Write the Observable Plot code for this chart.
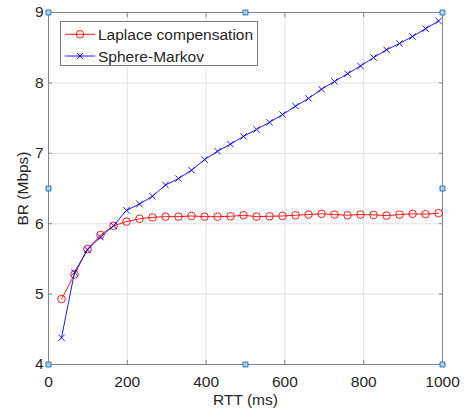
<!DOCTYPE html>
<html><head><meta charset="utf-8">
<script src="https://cdn.jsdelivr.net/npm/d3@7"></script>
<script src="https://cdn.jsdelivr.net/npm/@observablehq/plot@0.6"></script>
<style>
body{margin:0;background:#fff;}
#chart{position:relative;width:466px;height:415px;}
</style></head><body><div id="chart"></div>
<script>
const rtt = [33,66,99,132,165,198,231,264,297,330,363,396,429,462,495,528,561,594,627,660,693,726,759,792,825,858,891,924,957,990];
const laplace = [4.93,5.28,5.64,5.84,5.97,6.03,6.07,6.09,6.10,6.10,6.11,6.10,6.10,6.105,6.12,6.10,6.105,6.11,6.12,6.13,6.14,6.13,6.12,6.13,6.125,6.115,6.13,6.14,6.135,6.15];
const sphere = [4.38,5.31,5.63,5.81,5.97,6.19,6.28,6.39,6.55,6.64,6.76,6.91,7.03,7.13,7.24,7.34,7.44,7.55,7.67,7.78,7.91,8.02,8.13,8.24,8.36,8.47,8.56,8.66,8.77,8.88];
const seriesNames = ["Laplace compensation","Sphere-Markov"];
const seriesColors = ["#ff0000","#0000ff"];
const xTicks = [0,200,400,600,800,1000];
const yTicks = [4,5,6,7,8,9];
const handleX = [0,500,1000];
const handleY = [4,6.5,9];

const lap = rtt.map((x,i)=>({x, y: laplace[i]}));
const sph = rtt.map((x,i)=>({x, y: sphere[i]}));
const handles = [];
handleY.forEach((y,j)=>handleX.forEach((x,i)=>{ if(!(i===1&&j===1)) handles.push({x,y}); }));

const axisGray = "#858585";
const plot = Plot.plot({
  width: 466, height: 415,
  marginLeft: 48, marginRight: 24, marginTop: 12, marginBottom: 51,
  style: {fontFamily: "'Liberation Sans', Arial, sans-serif", fontSize: "15.5px", color: "#262626", background: "#fff"},
  x: {domain: [0, 1000]},
  y: {domain: [4, 9]},
  marks: [
    Plot.gridX(xTicks, {stroke: "#e4e4e4", strokeOpacity: 1}),
    Plot.gridY(yTicks, {stroke: "#e4e4e4", strokeOpacity: 1}),
    Plot.frame({stroke: axisGray}),
    Plot.axisX(xTicks, {anchor: "bottom", tickSize: -4, stroke: axisGray, tickPadding: 15, tickFormat: d => String(d), label: "RTT (ms)", labelAnchor: "center", labelOffset: 40, labelArrow: "none"}),
    Plot.axisX(xTicks, {anchor: "top", tickSize: -4, stroke: axisGray, text: null, label: null}),
    Plot.axisY(yTicks, {anchor: "left", tickSize: -4, stroke: axisGray, tickPadding: 9, tickFormat: d => String(d), label: "BR (Mbps)", labelAnchor: "center", labelOffset: 32, labelArrow: "none"}),
    Plot.axisY(yTicks, {anchor: "right", tickSize: -4, stroke: axisGray, text: null, label: null}),
    Plot.line(lap, {x: "x", y: "y", stroke: seriesColors[0], strokeWidth: 0.9}),
    Plot.dot(lap, {x: "x", y: "y", stroke: seriesColors[0], fill: "none", r: 3.8, strokeWidth: 0.9}),
    Plot.line(sph, {x: "x", y: "y", stroke: seriesColors[1], strokeWidth: 0.9}),
    Plot.dot(sph, {x: "x", y: "y", stroke: seriesColors[1], symbol: "times", r: 3, strokeWidth: 0.9}),
    Plot.dot(handles, {x: "x", y: "y", symbol: "square", r: 2.8, fill: "#a9d2f5", stroke: "#2f78b8", strokeWidth: 1})
  ]
});
document.getElementById("chart").appendChild(plot);

// legend box inside the axes
const svg = d3.select(plot);
const lg = svg.append("g").attr("transform", "translate(60.5,21.5)");
lg.append("rect").attr("width", 197).attr("height", 44).attr("fill", "#fff").attr("stroke", "#7a7a7a");
seriesNames.forEach((name, i) => {
  const cy = 12.8 + i * 21.7;
  const row = lg.append("g").attr("transform", `translate(0,${cy})`);
  row.append("line").attr("x1", 4.5).attr("x2", 34.5).attr("stroke", seriesColors[i]).attr("stroke-width", 0.9);
  if (i === 0) {
    row.append("circle").attr("cx", 19.5).attr("r", 3.8).attr("fill", "none").attr("stroke", seriesColors[i]).attr("stroke-width", 0.9);
  } else {
    row.append("path").attr("d", "M16.5,-3L22.5,3M16.5,3L22.5,-3").attr("stroke", seriesColors[i]).attr("fill", "none").attr("stroke-width", 0.9);
  }
  row.append("text").attr("x", 37.5).attr("y", 5.5).attr("fill", "#262626")
    .attr("text-anchor", "start")
    .style("font-family", "'Liberation Sans', Arial, sans-serif").style("font-size", "15.5px").text(name);
});
</script></body></html>
